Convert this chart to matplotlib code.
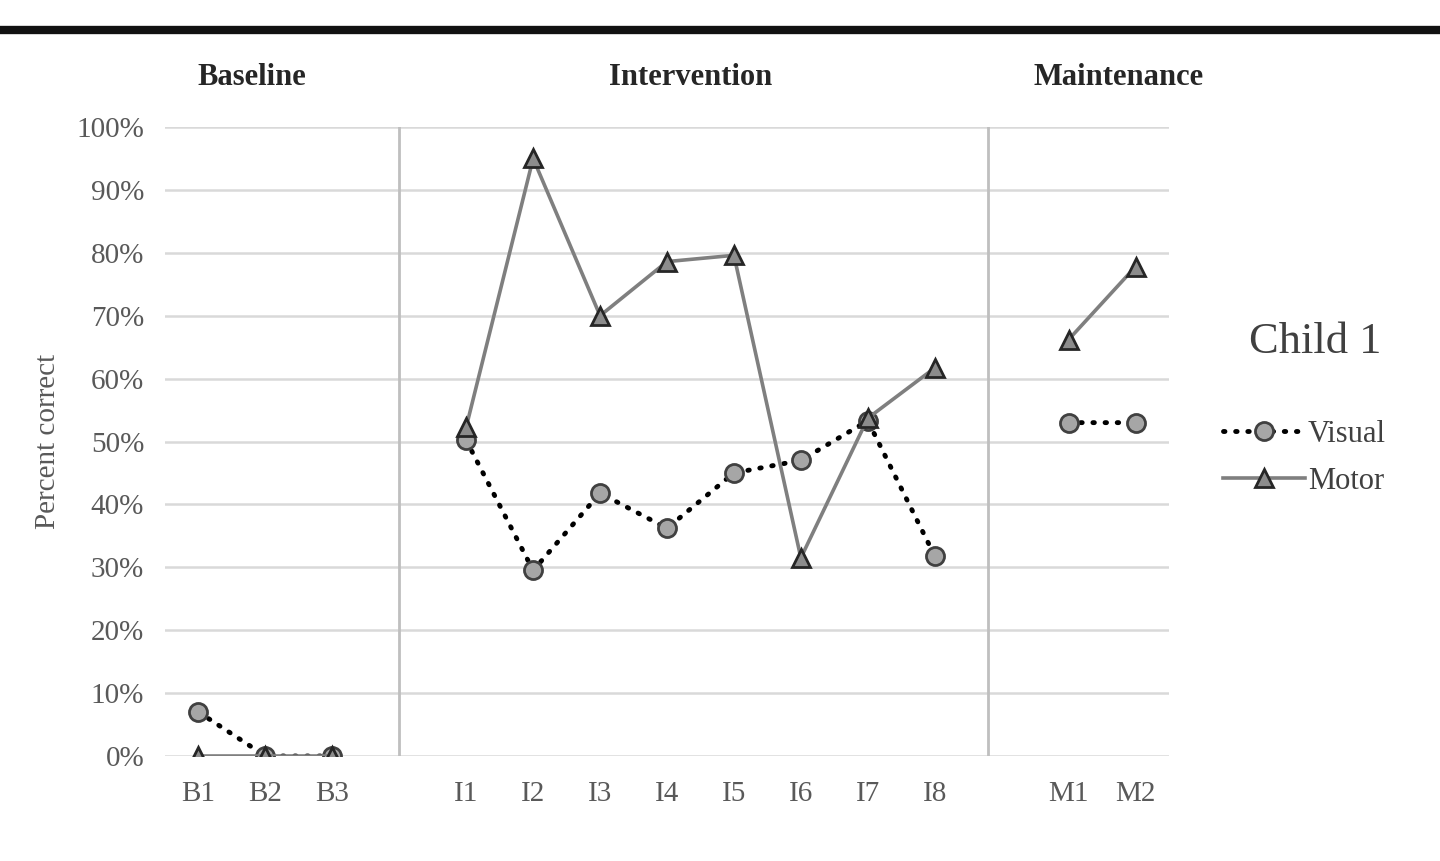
import matplotlib.pyplot as plt
import numpy as np
from matplotlib.lines import Line2D

plt.rcParams['font.family'] = ['Liberation Serif', 'DejaVu Serif']

# sessions (blank slots separate the phases)
sessions = ['B1', 'B2', 'B3', '', 'I1', 'I2', 'I3', 'I4', 'I5', 'I6', 'I7', 'I8', '', 'M1', 'M2']
visual = [0.07, 0.0, 0.0, np.nan, 0.502, 0.295, 0.418, 0.362, 0.45, 0.47, 0.533, 0.318, np.nan, 0.53, 0.53]
motor = [0.0, 0.0, 0.0, np.nan, 0.523, 0.95, 0.70, 0.786, 0.796, 0.315, 0.537, 0.617, np.nan, 0.662, 0.778]
phases = ['Baseline', 'Intervention', 'Maintenance']
phase_label_x = [0.8, 7.36, 13.75]
phase_breaks = [3, 11.8]

fig = plt.figure(figsize=(14.4, 8.61), dpi=100)
ax = fig.add_axes([165 / 1440, 1 - 756 / 861, 1004 / 1440, 629 / 861])

x = np.arange(len(sessions))
txt = '#595959'

ax.set_ylim(0, 1)
ax.set_xlim(-0.5, len(sessions) - 0.5)
ax.set_yticks(np.arange(0, 1.01, 0.1))
ax.set_yticklabels([f'{int(round(v * 100))}%' for v in np.arange(0, 1.01, 0.1)])
ax.set_xticks(x)
ax.set_xticklabels(sessions)
ax.tick_params(length=0, labelsize=21, colors=txt)
ax.tick_params(axis='y', pad=15)
ax.tick_params(axis='x', pad=18)
ax.grid(axis='y', color='#d9d9d9', lw=1.8)
ax.set_axisbelow(True)
for s in ax.spines.values():
    s.set_visible(False)

for b in phase_breaks:
    ax.plot([b, b], [0, 1], color='#bfbfbf', lw=2, zorder=1)

ax.plot(x, visual, color='black', lw=3.5, ls=(0, (0.3, 2.2)), dash_capstyle='round',
        marker='o', ms=13, mfc='#a6a6a6', mec='#404040', mew=2, label='Visual', zorder=3)
ax.plot(x, motor, color='#7f7f7f', lw=2.6, ls='-',
        marker='^', ms=13, mfc='#8c8c8c', mec='#262626', mew=2, label='Motor', zorder=4)

ax.set_ylabel('Percent correct', fontsize=21, color=txt, labelpad=11)

for name, px in zip(phases, phase_label_x):
    ax.text(px, 1.078, name, transform=ax.get_xaxis_transform(), ha='center', va='center',
            fontsize=22, fontweight='bold', color='#262626')

fig.text(1315 / 1440, 1 - 342 / 861, 'Child 1', fontsize=32, color='#404040', ha='center', va='center')

leg = ax.legend(loc='center left', bbox_to_anchor=(1195 / 1440, 1 - 458 / 861),
                bbox_transform=fig.transFigure, frameon=False, fontsize=22,
                handlelength=2.7, handletextpad=0.1, labelspacing=0.6)
for t in leg.get_texts():
    t.set_color('#404040')

# heavy rule across the top
fig.add_artist(Line2D([0, 1], [1 - 30 / 861, 1 - 30 / 861], color='#111111', lw=6,
                      transform=fig.transFigure))

fig.savefig('out.png', dpi=100)
